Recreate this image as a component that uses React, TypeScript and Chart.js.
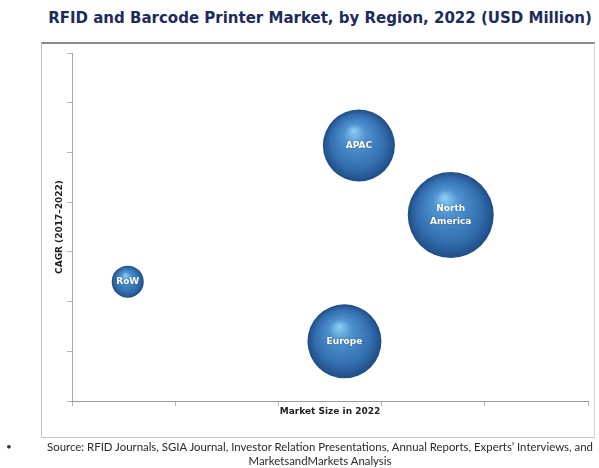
import React, { useEffect, useRef } from 'react';
import { Chart, registerables } from 'chart.js';

Chart.register(...registerables);

// ---- data ----
const regions = ['APAC', 'North America', 'RoW', 'Europe'];
const bubbleLabels = [['APAC'], ['North', 'America'], ['RoW'], ['Europe']];
const marketSize2022 = [27.8, 36.7, 5.4, 26.4];
const cagr2017to2022 = [25.7, 18.7, 12.0, 6.0];
const bubbleRadius = [36, 43, 16, 37];
const xRange = [0, 50];
const yRange = [0, 35];
const xStep = 10;
const yStep = 5;

const chartTitle = 'RFID and Barcode Printer Market, by Region, 2022 (USD Million)';
const xAxisTitle = 'Market Size in 2022';
const yAxisTitle = 'CAGR (2017\u20132022)';
const sourceLines = [
  'Source: RFID Journals, SGIA Journal, Investor Relation Presentations, Annual Reports, Experts\u2019 Interviews, and',
  'MarketsandMarkets Analysis',
];

const bubbleLabelPlugin = {
  id: 'bubbleLabels',
  afterDatasetsDraw(chart: any) {
    const meta = chart.getDatasetMeta(0);
    const ctx = chart.ctx;
    ctx.save();
    ctx.font = 'bold 9px "DejaVu Sans"';
    ctx.fillStyle = '#ffffff';
    ctx.textAlign = 'center';
    ctx.textBaseline = 'middle';
    ctx.shadowColor = 'rgba(0,0,0,0.35)';
    ctx.shadowBlur = 2;
    meta.data.forEach((el: any, i: number) => {
      const lines = bubbleLabels[i];
      const lh = 13;
      lines.forEach((ln, j) => {
        ctx.fillText(ln, el.x, el.y + (j - (lines.length - 1) / 2) * lh);
      });
    });
    ctx.restore();
  },
};

function sphereFill(context: any) {
  const chart = context.chart;
  const raw = context.raw;
  const fallback = '#3a74b2';
  if (!raw || !chart.scales || !chart.scales.x || !chart.scales.y) return fallback;
  const x = chart.scales.x.getPixelForValue(raw.x);
  const y = chart.scales.y.getPixelForValue(raw.y);
  const r = raw.r;
  if (!isFinite(x) || !isFinite(y) || !isFinite(r)) return fallback;
  const g = chart.ctx.createRadialGradient(x - r * 0.15, y - r * 0.42, 0, x, y, r);
  g.addColorStop(0, '#8fd0f4');
  g.addColorStop(0.3, '#4f92cf');
  g.addColorStop(0.75, '#336eae');
  g.addColorStop(1, '#1f4d86');
  return g;
}

export default function App() {
  const canvasRef = useRef<HTMLCanvasElement | null>(null);

  useEffect(() => {
    if (!canvasRef.current) return;
    const chart = new Chart(canvasRef.current, {
      type: 'bubble',
      data: {
        labels: regions,
        datasets: [
          {
            label: 'Regions',
            data: regions.map((_, i) => ({
              x: marketSize2022[i],
              y: cagr2017to2022[i],
              r: bubbleRadius[i],
            })),
            backgroundColor: sphereFill as any,
            borderWidth: 0,
          },
        ],
      },
      options: {
        responsive: false,
        animation: false,
        layout: { padding: { left: 54.2, top: 53, right: 52, bottom: 51.2 } },
        plugins: {
          legend: { display: false },
          tooltip: { enabled: false },
          title: { display: false },
        },
        scales: {
          x: {
            type: 'linear',
            min: xRange[0],
            max: xRange[1],
            ticks: { stepSize: xStep, display: false },
            grid: { drawOnChartArea: false, drawTicks: true, tickLength: 5, color: '#b5b5b5' },
            border: { display: true, color: '#9a9a9a', width: 1 },
            title: {
              display: true,
              text: xAxisTitle,
              color: '#222',
              font: { family: '"DejaVu Sans"', size: 9, weight: 'bold' },
              padding: { top: 0, bottom: 0 },
            },
          },
          y: {
            type: 'linear',
            min: yRange[0],
            max: yRange[1],
            ticks: { stepSize: yStep, display: false },
            grid: { drawOnChartArea: false, drawTicks: true, tickLength: 5, color: '#b5b5b5' },
            border: { display: true, color: '#a8a8a8', width: 1 },
            title: {
              display: true,
              text: yAxisTitle,
              color: '#222',
              font: { family: '"DejaVu Sans"', size: 9, weight: 'bold' },
              padding: { top: 0, bottom: 2 },
            },
          },
        },
      },
      plugins: [bubbleLabelPlugin],
    });
    chart.update();
    return () => chart.destroy();
  }, []);

  return (
    <div
      style={{
        position: 'absolute',
        left: 0,
        top: 0,
        width: 599,
        height: 468,
        background: '#ffffff',
        overflow: 'hidden',
        fontFamily: '"DejaVu Sans", sans-serif',
      }}
    >
      <div
        style={{
          position: 'absolute',
          left: 0,
          top: 8,
          width: 640,
          textAlign: 'center',
          fontFamily: '"DejaVu Sans"',
          fontWeight: 'bold',
          fontSize: 15,
          color: '#1d2b5e',
          whiteSpace: 'nowrap',
          lineHeight: '20px',
        }}
      >
        {chartTitle}
      </div>
      <div
        style={{
          position: 'absolute',
          left: 41,
          top: 42,
          width: 552,
          height: 393,
          borderTop: '2px solid #8c8c8c',
          borderLeft: '1px solid #c4c4c4',
          borderRight: '1px solid #d8d8d8',
          borderBottom: '1px solid #c4c4c4',
        }}
      />
      <canvas
        ref={canvasRef}
        width={640}
        height={468}
        style={{ position: 'absolute', left: 0, top: 0, width: 640, height: 468 }}
      />
      <div
        style={{
          position: 'absolute',
          left: 6,
          top: 440,
          fontSize: 10,
          color: '#333',
          fontFamily: 'Lato',
        }}
      >
        {'\u2022'}
      </div>
      <div
        style={{
          position: 'absolute',
          left: 0,
          top: 440,
          width: 640,
          textAlign: 'center',
          fontSize: 11.4,
          lineHeight: '14px',
          color: '#2a2a2a',
          fontFamily: 'Lato',
          whiteSpace: 'nowrap',
        }}
      >
        {sourceLines.map((l, i) => (
          <div key={i}>{l}</div>
        ))}
      </div>
    </div>
  );
}
